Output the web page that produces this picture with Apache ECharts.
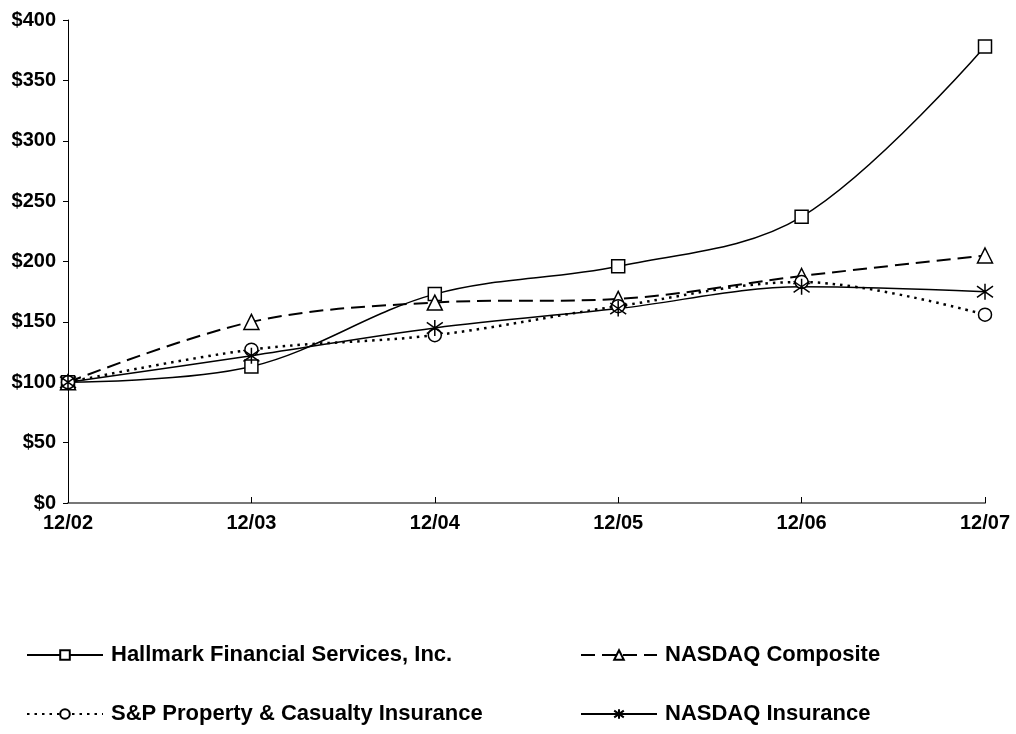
<!DOCTYPE html>
<html>
<head>
<meta charset="utf-8">
<script src="https://cdn.jsdelivr.net/npm/echarts@6/dist/echarts.min.js"></script>
<style>html,body{margin:0;padding:0;background:#fff}#c{width:1016px;height:734px}</style>
</head>
<body>
<div id="c"></div>
<script>
const categories = ['12/02', '12/03', '12/04', '12/05', '12/06', '12/07'];
const hallmark = [100, 113, 173, 196, 237, 378];
const nasdaqComposite = [100, 150, 166, 169, 188, 205];
const spPropertyCasualty = [100, 127, 139, 163, 183, 156];
const nasdaqInsurance = [100, 122, 145, 161, 179, 175];
const yTicks = { min: 0, max: 400, interval: 50 };

const names = ['Hallmark Financial Services, Inc.', 'NASDAQ Composite', 'S&P Property & Casualty Insurance', 'NASDAQ Insurance'];
const FONT = '"Liberation Sans", Arial, sans-serif';
const asterisk = 'path://M0,-10L0,10M-9,-7L9,7M-9,7L9,-7';

const chart = echarts.init(document.getElementById('c'), null, { renderer: 'canvas' });
const mk = (name, data, symbol, size, lineType, width) => ({
  name, type: 'line', data, smooth: 0.35,
  symbol, symbolSize: size, showSymbol: true,
  lineStyle: { color: '#000', width: width, type: lineType },
  itemStyle: { color: '#fff', borderColor: '#000', borderWidth: 1.5 },
  emphasis: { disabled: true },
  z: 2
});
const legendBase = (name, left, top) => ({
  data: [name], left, top, itemWidth: 76, itemHeight: 12, orient: 'horizontal',
  padding: 0, selectedMode: false,
  textStyle: { fontFamily: FONT, fontWeight: 'bold', fontSize: 22, color: '#000', padding: [0, 0, 0, 3] }
});
chart.setOption({
  animation: false,
  backgroundColor: '#fff',
  grid: { left: 68, right: 31, top: 20, bottom: 231, containLabel: false },
  legend: [
    legendBase(names[0], 26, 644),
    legendBase(names[1], 580, 644),
    legendBase(names[2], 26, 703),
    legendBase(names[3], 580, 703)
  ],
  xAxis: {
    type: 'category', data: categories, boundaryGap: false,
    axisLine: { lineStyle: { color: '#777', width: 2 } },
    axisTick: { show: true, inside: true, length: 6, alignWithLabel: true, lineStyle: { color: '#000' } },
    axisLabel: { fontFamily: FONT, fontWeight: 'bold', fontSize: 20, color: '#000', margin: 10, showMinLabel: true, showMaxLabel: true },
    splitLine: { show: false }
  },
  yAxis: {
    type: 'value', min: yTicks.min, max: yTicks.max, interval: yTicks.interval,
    axisLine: { show: true, lineStyle: { color: '#000', width: 1 } },
    axisTick: { show: true, length: 5, lineStyle: { color: '#000' } },
    axisLabel: { fontFamily: FONT, fontWeight: 'bold', fontSize: 20, color: '#000', margin: 12, formatter: v => '$' + v },
    splitLine: { show: false }
  },
  series: [
    mk(names[0], hallmark, 'rect', 13, 'solid', 1.5),
    mk(names[1], nasdaqComposite, 'triangle', 15, [14, 7], 2),
    mk(names[2], spPropertyCasualty, 'circle', 13, [2.5, 5], 2.5),
    mk(names[3], nasdaqInsurance, asterisk, 16, 'solid', 1.5)
  ]
});
</script>
</body>
</html>
